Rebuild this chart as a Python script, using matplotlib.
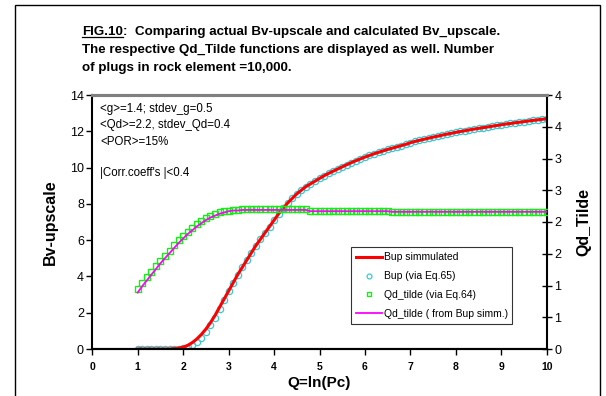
import numpy as np
import matplotlib
matplotlib.use('Agg')
import matplotlib.pyplot as plt
from matplotlib.lines import Line2D
from matplotlib.patches import Rectangle
from matplotlib.ticker import FixedLocator, FuncFormatter

plt.rcParams['font.family'] = ['Liberation Sans', 'DejaVu Sans']

# Q = ln(Pc) sample grid, 1.0 .. 10.0 in steps of 0.1
q = np.linspace(1, 10, 91)

bup_sim = [0, 0, 0, 0, 0, 0, 0, 0, 0.02, 0.05,
           0.1, 0.2, 0.35, 0.55, 0.8, 1.1, 1.45, 1.85, 2.3, 2.75,
           3.2, 3.65, 4.1, 4.5, 4.9, 5.3, 5.7, 6.05, 6.4, 6.75,
           7.1, 7.45, 7.75, 8.05, 8.3, 8.55, 8.75, 8.95, 9.1, 9.25,
           9.4, 9.55, 9.68, 9.8, 9.92, 10.04, 10.16, 10.27, 10.38, 10.48,
           10.58, 10.67, 10.76, 10.84, 10.92, 11.0, 11.07, 11.14, 11.21, 11.28,
           11.37, 11.44, 11.5, 11.56, 11.62, 11.68, 11.73, 11.79, 11.84, 11.89,
           11.94, 11.99, 12.03, 12.08, 12.12, 12.16, 12.2, 12.24, 12.28, 12.32,
           12.36, 12.4, 12.43, 12.47, 12.5, 12.53, 12.57, 12.6, 12.63, 12.66,
           12.7]

bup_eq65 = [0, 0, 0, 0, 0, 0, 0, 0, 0.0, 0.02,
            0.05, 0.1, 0.2, 0.38, 0.62, 0.92, 1.3, 1.72, 2.2, 2.7,
            3.18, 3.65, 4.1, 4.5, 4.9, 5.3, 5.7, 6.05, 6.4, 6.75,
            7.1, 7.45, 7.75, 8.05, 8.3, 8.55, 8.75, 8.95, 9.1, 9.25,
            9.4, 9.55, 9.68, 9.8, 9.92, 10.04, 10.16, 10.27, 10.38, 10.48,
            10.58, 10.67, 10.76, 10.84, 10.92, 11.0, 11.07, 11.14, 11.21, 11.28,
            11.37, 11.44, 11.5, 11.56, 11.62, 11.68, 11.73, 11.79, 11.84, 11.89,
            11.94, 11.99, 12.03, 12.08, 12.12, 12.16, 12.2, 12.24, 12.28, 12.32,
            12.36, 12.4, 12.43, 12.47, 12.5, 12.53, 12.57, 12.6, 12.63, 12.66,
            12.7]

qd_eq64 = ([0.95, 1.04, 1.13, 1.21, 1.3, 1.38, 1.47, 1.55, 1.63, 1.71,
            1.78, 1.85, 1.91, 1.97, 2.02, 2.06, 2.1, 2.13, 2.15, 2.17,
            2.18, 2.19, 2.19]
           + [2.2] * 15 + [2.17] * 18 + [2.16] * 35)

qd_from_bup = ([0.89, 0.99, 1.08, 1.17, 1.26, 1.35, 1.43, 1.51, 1.59, 1.67,
                1.74, 1.81, 1.87, 1.93, 1.98, 2.03, 2.07, 2.1, 2.13, 2.15,
                2.17, 2.18, 2.18]
               + [2.19] * 15 + [2.17] * 18 + [2.16] * 35)

fig = plt.figure(figsize=(6.06, 3.96), dpi=100)
W, H = 606, 396

# outer frame (bottom edge runs off the page)
fig.patches.append(Rectangle((15 / W, -0.1), 585 / W, 1.1 - 5 / H,
                             transform=fig.transFigure, fill=False,
                             edgecolor='black', linewidth=1.0))

ax = fig.add_axes([92.3 / W, 1 - 349 / H, 454.4 / W, 254 / H])
ax2 = ax.twinx()

ax.set_xlim(0, 10)
ax.set_ylim(0, 14)
ax2.set_ylim(0, 4)
ax.set_xticks(range(0, 11))
ax.set_yticks(range(0, 15, 2))
ax2.yaxis.set_major_locator(FixedLocator(np.arange(0, 4.01, 0.5)))
ax2.yaxis.set_major_formatter(FuncFormatter(lambda v, p: '%d' % int(np.floor(v + 0.5))))

for a in (ax, ax2):
    a.spines['top'].set_color('#808080')
    a.spines['top'].set_linewidth(2.2)
    a.spines['left'].set_linewidth(1.5)
    a.spines['bottom'].set_linewidth(1.5)
ax.spines['right'].set_visible(False)
ax2.spines['right'].set_linewidth(1.5)
ax2.spines['left'].set_visible(False)

ax.tick_params(axis='y', direction='out', length=4, width=1, labelsize=9, pad=2)
ax.tick_params(axis='x', direction='out', length=4, width=1, labelsize=7.5, pad=5)
for lbl in ax.get_xticklabels():
    lbl.set_fontweight('bold')
ax2.tick_params(axis='y', direction='inout', length=7, width=1, labelsize=9, pad=2)

ax.set_xlabel('Q=ln(Pc)', fontsize=11, fontweight='bold', labelpad=3)
ax.set_ylabel('Bv-upscale', fontsize=11.5, fontweight='bold', labelpad=9)
ax2.set_ylabel('Qd_Tilde', fontsize=11.5, fontweight='bold', labelpad=11)

# Bup curves on the left axis
ax.plot(q, bup_eq65, linestyle='none', marker='o', markersize=4.5,
        markerfacecolor='none', markeredgecolor='#3CC8D0', markeredgewidth=0.9,
        zorder=3)
ax.plot(q, bup_sim, color='#FF0000', linewidth=2.2, zorder=4)

# Qd_tilde curves on the right axis
ax2.plot(q, qd_eq64, linestyle='none', marker='s', markersize=4.5,
         markerfacecolor='none', markeredgecolor='#11F011', markeredgewidth=1.0,
         zorder=3)
ax2.plot(q, qd_from_bup, color='#FF00FF', linewidth=1.3, zorder=4)

handles = [
    Line2D([], [], color='#FF0000', linewidth=2.2),
    Line2D([], [], linestyle='none', marker='o', markersize=3.5,
           markerfacecolor='none', markeredgecolor='#3CC8D0', markeredgewidth=0.9),
    Line2D([], [], linestyle='none', marker='s', markersize=3.5,
           markerfacecolor='none', markeredgecolor='#11F011', markeredgewidth=1.0),
    Line2D([], [], color='#FF00FF', linewidth=1.3),
]
labels = ['Bup simmulated', 'Bup (via Eq.65)', 'Qd_tilde (via Eq.64)',
          'Qd_tilde ( from Bup simm.)']
leg = ax2.legend(handles, labels, loc='lower left',
                 bbox_to_anchor=(0.569, 0.098, 0.355, 0.3), mode='expand',
                 fontsize=7.5, frameon=True, fancybox=False, borderaxespad=0,
                 labelspacing=0.85, handlelength=2.5, handletextpad=0.2,
                 borderpad=0.5)
leg.get_frame().set_edgecolor('black')
leg.get_frame().set_linewidth(0.8)

# parameter notes
notes = [('<g>=1.4; stdev_g=0.5', 109), ('<Qd>=2.2, stdev_Qd=0.4', 125),
         ('<POR>=15%', 142), ("|Corr.coeff's |<0.4", 173)]
for txt, ypix in notes:
    fig.text(100 / W, 1 - ypix / H, txt, fontsize=8.3, va='center', ha='left')

# caption with underlined figure number
tfs = 9.6
y1 = 1 - 32 / H
fig_no = fig.text(82 / W, y1, 'FIG.10', fontsize=tfs, fontweight='bold',
                  va='center', ha='left')
fig.canvas.draw()
bb = fig_no.get_window_extent().transformed(fig.transFigure.inverted())
fig.add_artist(Line2D([bb.x0, bb.x1], [bb.y0 + 0.002, bb.y0 + 0.002],
                      transform=fig.transFigure, color='black', linewidth=0.9))
fig.text(bb.x1, y1, ':  Comparing actual Bv-upscale and calculated Bv_upscale.',
         fontsize=tfs, fontweight='bold', va='center', ha='left')
fig.text(82 / W, 1 - 50 / H,
         'The respective Qd_Tilde functions are displayed as well. Number',
         fontsize=tfs, fontweight='bold', va='center', ha='left')
fig.text(82 / W, 1 - 68 / H, 'of plugs in rock element =10,000.',
         fontsize=tfs, fontweight='bold', va='center', ha='left')

fig.savefig('out.png', dpi=100)
